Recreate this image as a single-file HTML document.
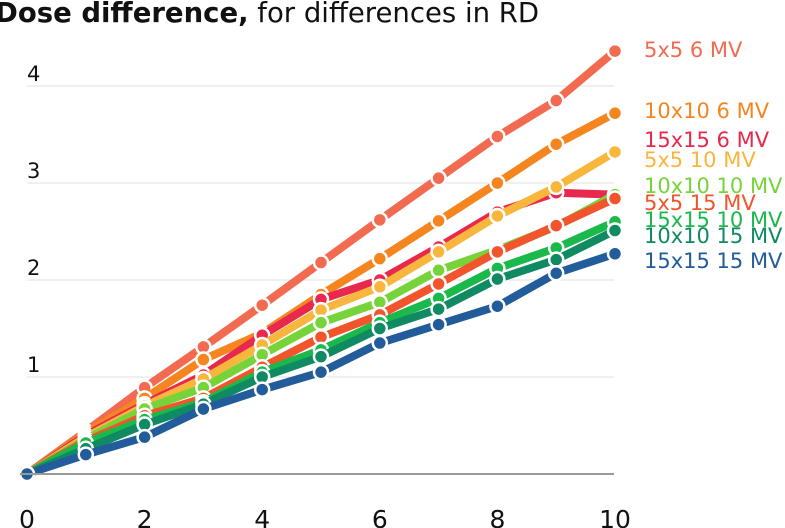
<!DOCTYPE html>
<html><head><meta charset="utf-8"><style>
html,body{margin:0;padding:0;background:#fff;}
svg{display:block;font-family:"DejaVu Sans","Liberation Sans",sans-serif;}
</style></head><body>
<svg id="chart" width="785" height="528" viewBox="0 0 785 528" xmlns="http://www.w3.org/2000/svg">
<text x="-5" y="22" font-size="27.5" fill="#111"><tspan font-weight="bold">Dose difference,</tspan> for differences in RD</text>
<g id="grid"></g><g id="series"></g><g id="legend"></g><g id="axes"></g>
</svg>
<script>
const xValues = [0,1,2,3,4,5,6,7,8,9,10];
const seriesNames = ["5x5 6 MV","10x10 6 MV","15x15 6 MV","5x5 10 MV","10x10 10 MV","5x5 15 MV","15x15 10 MV","10x10 15 MV","15x15 15 MV"];
const seriesColors = ["#f26b50","#f5861f","#e8294d","#f8b63c","#76d43a","#f2552b","#1bb84b","#108a63","#225c9b"];
const s1 = [0,0.44,0.89,1.31,1.74,2.18,2.62,3.05,3.48,3.85,4.36];
const s2 = [0,0.42,0.78,1.18,1.45,1.85,2.22,2.61,3.00,3.40,3.72];
const s3 = [0,0.40,0.72,1.02,1.43,1.80,2.00,2.34,2.70,2.90,2.88];
const s4 = [0,0.38,0.70,0.98,1.33,1.69,1.93,2.29,2.66,2.96,3.32];
const s5 = [0,0.36,0.67,0.89,1.23,1.56,1.77,2.10,2.31,2.55,2.88];
const s6 = [0,0.34,0.60,0.78,1.10,1.41,1.64,1.96,2.29,2.56,2.84];
const s7 = [0,0.32,0.56,0.74,1.05,1.28,1.56,1.81,2.12,2.33,2.60];
const s8 = [0,0.26,0.51,0.72,1.00,1.21,1.50,1.70,2.01,2.21,2.51];
const s9 = [0,0.20,0.38,0.67,0.87,1.05,1.35,1.54,1.73,2.07,2.27];
const seriesValues = [s1,s2,s3,s4,s5,s6,s7,s8,s9];
const yTicks = [1,2,3,4];
const xTicks = [0,2,4,6,8,10];
const legendY = [57,118,147,167,193,210,227,243,268];

const NS="http://www.w3.org/2000/svg";
const xs = v => 27 + v*58.8;
const ys = v => 474 - v*97;
function mk(tag, attrs, parent){const e=document.createElementNS(NS,tag);for(const k in attrs)e.setAttribute(k,attrs[k]);parent.appendChild(e);return e;}
const grid=document.getElementById('grid'),series=document.getElementById('series'),legend=document.getElementById('legend'),axes=document.getElementById('axes');
yTicks.forEach(t=>{
  const l=mk('line',{x1:27,x2:614,y1:ys(t),y2:ys(t),stroke:'#e2e2e2','stroke-width':1},grid);
  
  
  const tx=mk('text',{x:27,y:ys(t)-5,'font-size':21,fill:'#111'},axes);
  tx.textContent=t;
  
  
});
const base=mk('line',{x1:20,x2:614,y1:474,y2:474,stroke:'#999','stroke-width':2},axes);


xTicks.forEach(t=>{
  const tx=mk('text',{x:xs(t),y:528,'font-size':25,'text-anchor':'middle',fill:'#111'},axes);
  tx.textContent=t;
  
  
});
seriesValues.forEach((vals,i)=>{
  const g=mk('g',{},series);
  
  
  const pts=vals.map((v,j)=>xs(xValues[j])+','+ys(v)).join(' ');
  const pl=mk('polyline',{points:pts,fill:'none',stroke:seriesColors[i],'stroke-width':8,'stroke-linejoin':'round'},g);
  
  
  vals.forEach((v,j)=>{
    const c=mk('circle',{cx:xs(xValues[j]),cy:ys(v),r:7,fill:seriesColors[i],stroke:'#fff','stroke-width':2.5},g);
    
    
  });
  const lt=mk('text',{x:644,y:legendY[i],'font-size':21,fill:seriesColors[i]},legend);
  lt.textContent=seriesNames[i];
  
  
});
</script>
</body></html>
